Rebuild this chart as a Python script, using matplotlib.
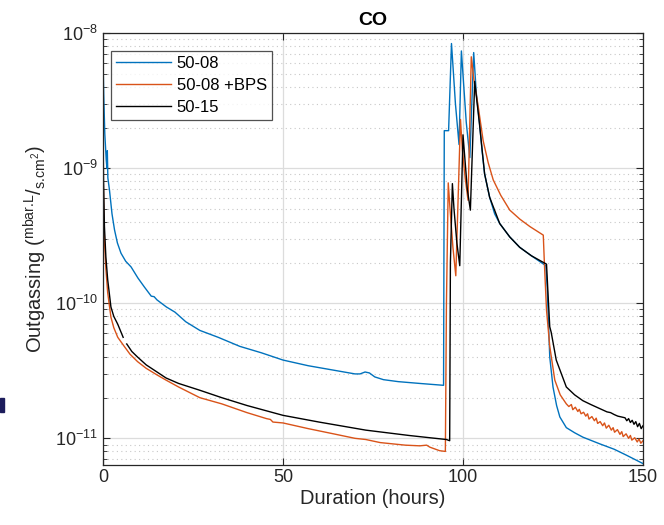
import numpy as np
import matplotlib
matplotlib.use("Agg")
from matplotlib import pyplot as plt
from matplotlib.patches import Rectangle
from matplotlib.ticker import NullFormatter

plt.rcParams["font.family"] = ["Liberation Sans", "DejaVu Sans"]
plt.rcParams["mathtext.fontset"] = "custom"
plt.rcParams["mathtext.rm"] = "Liberation Sans"
plt.rcParams["mathtext.it"] = "Liberation Sans:italic"
plt.rcParams["mathtext.bf"] = "Liberation Sans:bold"

# ---- data (hours, mbar.L/s.cm2) ----
t_5008 = [0, 0.2, 0.5, 0.9, 1.1, 1.2, 1.35, 1.8, 2.5, 3.2, 4.0, 5.0, 6.3, 7.8, 9.7,
          11.5, 13.4, 14.2, 15.0, 17.6, 20, 23, 26.9, 32, 38, 44, 50, 57, 64, 70,
          71.4, 72.8, 74, 75.5, 77.9, 82, 88, 94.6,
          94.8, 96.0, 96.8, 97.2, 97.9, 98.9, 99.55, 100.1, 100.9, 101.9, 102.97,
          103.7, 104.6, 105.3, 106.0, 107.4, 108.8, 110.2, 113, 115.75, 119, 123.0,
          123.4, 123.8, 124.1, 125.0, 126.0, 126.9, 128.7, 131, 133.3, 138, 142, 145.4, 150]
co_5008 = [6.5e-9, 3.5e-9, 1.8e-9, 1.15e-9, 1.0e-9, 1.35e-9, 0.85e-9, 6.9e-10, 4.6e-10, 3.5e-10, 2.8e-10, 2.35e-10, 2.05e-10, 1.86e-10, 1.54e-10,
           1.32e-10, 1.13e-10, 1.12e-10, 1.06e-10, 9.4e-11, 8.6e-11, 7.3e-11, 6.3e-11, 5.6e-11, 4.8e-11, 4.3e-11, 3.8e-11, 3.45e-11, 3.2e-11, 3.0e-11,
           3.0e-11, 3.1e-11, 3.05e-11, 2.85e-11, 2.72e-11, 2.63e-11, 2.55e-11, 2.47e-11,
           1.9e-9, 1.9e-9, 8.4e-9, 5.8e-9, 3.0e-9, 1.5e-9, 7.4e-9, 4.5e-9, 2.2e-9, 1.2e-9, 7.2e-9,
           3.6e-9, 2.15e-9, 1.35e-9, 9.1e-10, 6.1e-10, 4.6e-10, 3.9e-10, 3.1e-10, 2.6e-10, 2.25e-10, 1.9e-10,
           1.3e-10, 6.5e-11, 4.0e-11, 2.4e-11, 1.75e-11, 1.44e-11, 1.2e-11, 1.1e-11, 1.02e-11, 9.1e-12, 8.3e-12, 7.5e-12, 6.5e-12]

t_bps = [0, 0.15, 0.4, 0.8, 1.3, 2.2, 3.0, 4.1, 5.9, 7.5, 9.6, 12, 15, 17.5, 21, 26.9,
         33, 40, 45.4, 46.5, 47.2, 50, 57, 64, 70, 73, 77, 84, 88, 89.9, 90.8, 93.5, 95.1,
         95.4, 95.9, 96.4, 97.2, 98.0, 99.3, 99.8, 100.6, 101.4, 102.3,
         103.0, 104.2, 105.6, 107.0, 108.4, 110.5, 113, 115.8, 118.6, 122.3,
         122.6, 123.2, 124.1, 125.5, 127.0, 128.7,
         129.4, 130.1, 130.5, 131.2, 131.9, 132.3, 132.8, 133.5, 134.1, 134.6, 135.0, 135.8,
         136.5, 137.0, 137.4, 138.1, 138.8, 139.3, 139.8, 140.5, 141.2, 141.7, 142.1, 142.9,
         143.6, 144.1, 144.5, 145.3, 146.0, 146.5, 146.9, 147.7, 148.4, 148.9, 149.4, 150]
co_bps = [1.1e-9, 6e-10, 2.9e-10, 1.8e-10, 1.2e-10, 7.9e-11, 6.6e-11, 5.6e-11, 4.8e-11, 4.2e-11, 3.7e-11, 3.3e-11, 2.95e-11, 2.7e-11, 2.4e-11, 2.0e-11,
          1.8e-11, 1.55e-11, 1.4e-11, 1.38e-11, 1.32e-11, 1.3e-11, 1.18e-11, 1.08e-11, 1.0e-11, 9.8e-12, 9.3e-12, 8.9e-12, 8.8e-12, 8.9e-12, 8.6e-12, 8.1e-12, 8.0e-12,
          1e-10, 7.8e-10, 5e-10, 2.6e-10, 1.6e-10, 2.3e-9, 1.4e-9, 8.5e-10, 5.8e-10, 6.7e-9,
          4.6e-9, 2.9e-9, 1.6e-9, 1.1e-9, 8.2e-10, 6.3e-10, 4.9e-10, 4.2e-10, 3.7e-10, 3.2e-10,
          2.0e-10, 8.9e-11, 4.8e-11, 2.7e-11, 2.1e-11, 1.8e-11,
          1.72e-11, 1.78e-11, 1.63e-11, 1.70e-11, 1.58e-11, 1.64e-11, 1.52e-11, 1.56e-11, 1.46e-11, 1.52e-11, 1.39e-11, 1.45e-11,
          1.35e-11, 1.41e-11, 1.29e-11, 1.33e-11, 1.24e-11, 1.30e-11, 1.19e-11, 1.25e-11, 1.15e-11, 1.20e-11, 1.11e-11, 1.16e-11,
          1.07e-11, 1.12e-11, 1.03e-11, 1.08e-11, 1.00e-11, 1.05e-11, 0.97e-11, 1.01e-11, 0.94e-11, 0.99e-11, 0.92e-11, 0.96e-11]

t_5015 = [0, 0.15, 0.4, 0.8, 1.3, 2.2, 3.0, 4.1, 5.6, 6.0, 6.6, 8, 9.6, 12, 15, 17.5, 21, 26.9,
          33, 40, 50, 60, 73, 85, 90.8, 95.4, 96.3,
          96.5, 97.05, 97.5, 98.3, 99.1, 100.0, 100.5, 101.2, 102.05, 103.25,
          104.6, 106.0, 107.4, 110.2, 113, 115.75, 119, 123.2,
          123.6, 124.1, 124.5, 125.9, 128.7, 131, 133.3, 135.5, 138, 140, 141, 142, 143, 144,
          145.0, 145.5, 146.0, 146.5, 147.0, 147.5, 148.0, 148.5, 149.0, 149.5, 150]
co_5015 = [1.8e-9, 8e-10, 3.7e-10, 2.2e-10, 1.5e-10, 9.4e-11, 8.0e-11, 7.0e-11, 5.6e-11, np.nan, 5.0e-11, 4.4e-11, 4.0e-11, 3.5e-11, 3.1e-11, 2.8e-11, 2.55e-11, 2.27e-11,
           2.0e-11, 1.75e-11, 1.48e-11, 1.32e-11, 1.15e-11, 1.05e-11, 1.01e-11, 9.8e-12, 9.6e-12,
           2e-10, 7.7e-10, 5e-10, 2.8e-10, 1.9e-10, 1.77e-9, 1.2e-9, 7e-10, 4.9e-10, 4.4e-9,
           2.1e-9, 9.1e-10, 6.1e-10, 3.9e-10, 3.1e-10, 2.6e-10, 2.25e-10, 1.95e-10,
           1.2e-10, 6.7e-11, 6.1e-11, 3.8e-11, 2.4e-11, 2.1e-11, 1.9e-11, 1.78e-11, 1.66e-11, 1.57e-11, 1.55e-11, 1.50e-11, 1.46e-11, 1.44e-11,
           1.42e-11, 1.35e-11, 1.40e-11, 1.31e-11, 1.36e-11, 1.27e-11, 1.33e-11, 1.22e-11, 1.29e-11, 1.18e-11, 1.24e-11]

labels = ["50-08", "50-08 +BPS", "50-15"]
colors = ["#0072BD", "#D95319", "#000000"]

W, H = 664, 525
fig = plt.figure(figsize=(W / 100, H / 100), dpi=100)
ax = fig.add_axes([103 / W, 1 - 464.5 / H, 540 / W, 431.2 / H])

for ts, vs, lab, col in zip([t_5008, t_bps, t_5015], [co_5008, co_bps, co_5015], labels, colors):
    ax.plot(ts, vs, color=col, lw=1.0, label=lab)

ax.set_yscale("log")
ax.set_xlim(0, 150)
ax.set_ylim(6.4e-12, 1e-8)
ax.set_xticks([0, 50, 100, 150])
ax.yaxis.set_minor_formatter(NullFormatter())

ax.grid(True, which="major", color="#dcdcdc", lw=0.9, ls="-")
ax.grid(True, which="minor", axis="y", color="#c8c8c8", lw=0.8, ls=(0, (1, 3)))
ax.set_axisbelow(True)

ax.tick_params(which="both", direction="in", top=True, right=True, colors="#262626",
               labelsize=13)
ax.tick_params(which="major", length=5, width=0.8)
ax.tick_params(which="minor", length=3, width=0.6)
for s in ax.spines.values():
    s.set_color("#262626")
    s.set_linewidth(0.9)

ax.set_title("CO", fontsize=14, fontweight="bold", pad=6, color="#000000")
ax.set_xlabel("Duration (hours)", fontsize=14.5, color="#262626", labelpad=2)
ax.set_ylabel(r"Outgassing ($^{\text{mbar.L}}/_{\text{s.cm}^{2}}$)",
              fontsize=14.5, color="#262626", labelpad=4)

leg = ax.legend(loc="upper left", bbox_to_anchor=(8 / 540, 1 - 17.4 / 431.2),
                borderaxespad=0, fontsize=12, frameon=True, fancybox=False,
                handlelength=3.3, handletextpad=0.35, labelspacing=0.42,
                borderpad=0.3)
leg.get_frame().set_edgecolor("#262626")
leg.get_frame().set_linewidth(0.9)

# small dark mark on the left edge of the crop
fig.patches.append(Rectangle((0, 1 - 412 / H), 4 / W, 14 / H, transform=fig.transFigure,
                             color="#1c1c5c", zorder=5))

fig.savefig("out.png", dpi=100)
